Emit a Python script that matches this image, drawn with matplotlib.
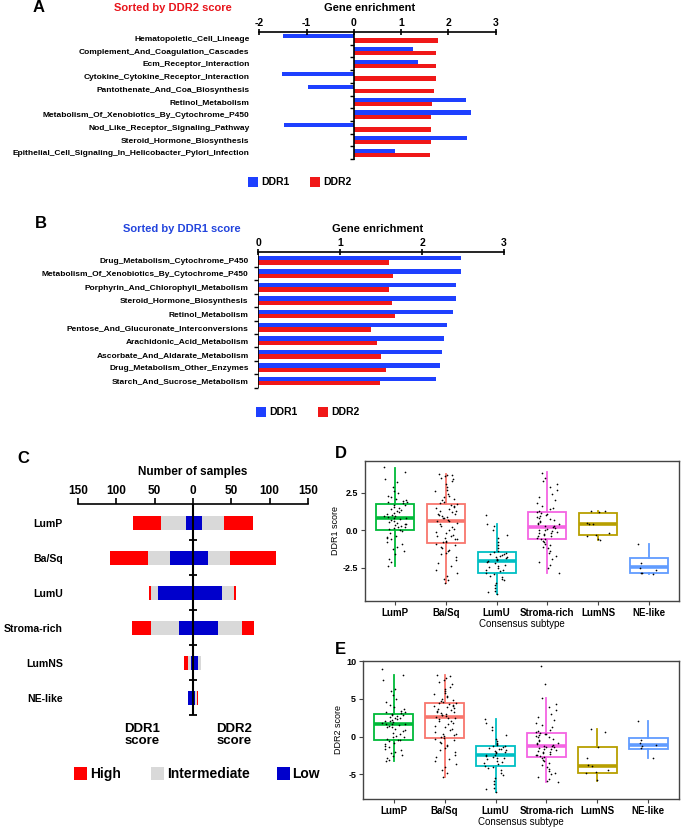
import matplotlib
matplotlib.use('Agg')
import matplotlib.pyplot as plt
from matplotlib.patches import Rectangle
import numpy as np

plt.rcParams['font.family'] = ['Liberation Sans', 'DejaVu Sans']
plt.rcParams['font.weight'] = 'bold'
plt.rcParams['axes.unicode_minus'] = False

W, H = 684, 830

# ---------------- data ----------------
# panel A: sorted by DDR2 score
a_terms = ['Hematopoietic_Cell_Lineage', 'Complement_And_Coagulation_Cascades',
           'Ecm_Receptor_Interaction', 'Cytokine_Cytokine_Receptor_Interaction',
           'Pantothenate_And_Coa_Biosynthesis', 'Retinol_Metabolism',
           'Metabolism_Of_Xenobiotics_By_Cytochrome_P450',
           'Nod_Like_Receptor_Signaling_Pathway', 'Steroid_Hormone_Biosynthesis',
           'Epithelial_Cell_Signaling_In_Helicobacter_Pylori_Infection']
a_ddr1 = [-1.50, 1.26, 1.36, -1.51, -0.98, 2.37, 2.47, -1.48, 2.40, 0.86]
a_ddr2 = [1.77, 1.74, 1.74, 1.73, 1.69, 1.66, 1.64, 1.63, 1.63, 1.62]

# panel B: sorted by DDR1 score
b_terms = ['Drug_Metabolism_Cytochrome_P450', 'Metabolism_Of_Xenobiotics_By_Cytochrome_P450',
           'Porphyrin_And_Chlorophyll_Metabolism', 'Steroid_Hormone_Biosynthesis',
           'Retinol_Metabolism', 'Pentose_And_Glucuronate_Interconversions',
           'Arachidonic_Acid_Metabolism', 'Ascorbate_And_Aldarate_Metabolism',
           'Drug_Metabolism_Other_Enzymes', 'Starch_And_Sucrose_Metabolism']
b_ddr1 = [2.48, 2.47, 2.42, 2.41, 2.38, 2.30, 2.27, 2.24, 2.22, 2.17]
b_ddr2 = [1.60, 1.64, 1.59, 1.63, 1.67, 1.38, 1.45, 1.50, 1.56, 1.49]

# panel C: number of samples per subtype
subtypes = ['LumP', 'Ba/Sq', 'LumU', 'Stroma-rich', 'LumNS', 'NE-like']
ddr1_low = [9, 30, 46, 18, 3, 7]
ddr1_int = [33, 29, 9, 37, 4, 0]
ddr1_high = [36, 49, 2, 25, 5, 0]
ddr2_low = [12, 19, 38, 32, 7, 2]
ddr2_int = [29, 29, 16, 32, 3, 3]
ddr2_high = [37, 60, 2, 16, 0, 2]

# panel D: DDR1 score box stats (whislo, q1, med, q3, whishi)
d_whislo = [-2.37, -3.52, -4.23, -2.81, -0.64, -2.90]
d_q1 = [0.04, -0.84, -2.81, -0.58, -0.33, -2.85]
d_med = [0.84, 0.64, -2.01, 0.24, 0.44, -2.46]
d_q3 = [1.73, 1.77, -1.44, 1.19, 1.13, -1.81]
d_whishi = [4.16, 3.72, 0.44, 3.85, 1.25, -0.91]
d_points = [
    [4.2, 3.9, 3.4, 3.2, 2.9, 2.6, 2.5, 2.3, 2.2, 2.1, 2.0, 1.95, 1.9, 1.85, 1.8,
     1.7, 1.65, 1.55, 1.5, 1.4, 1.35, 1.3, 1.2, 1.15, 1.1, 1.0, 0.95, 0.92, 0.88, 0.85,
     0.8, 0.75, 0.7, 0.62, 0.55, 0.5, 0.45, 0.4, 0.35, 0.3, 0.25, 0.2, 0.15, 0.1, 0.05,
     -0.05, -0.2, -0.35, -0.45, -0.5, -0.6, -0.75, -0.9, -1.1, -1.25, -1.4, -1.6, -1.9, -2.1, -2.35],
    [3.75, 3.7, 3.65, 3.6, 3.5, 3.4, 3.3, 3.1, 2.9, 2.7, 2.6, 2.4, 2.3, 2.2, 2.1, 2.0, 1.9, 1.8,
     1.75, 1.7, 1.6, 1.55, 1.5, 1.4, 1.3, 1.25, 1.2, 1.1, 1.05, 1.0, 0.95, 0.9, 0.85, 0.8, 0.7, 0.65,
     0.6, 0.5, 0.4, 0.3, 0.2, 0.1, 0.0, -0.1, -0.2, -0.3, -0.35, -0.4, -0.5, -0.55, -0.6, -0.7, -0.75, -0.8,
     -0.9, -1.0, -1.1, -1.2, -1.3, -1.4, -1.5, -1.6, -1.8, -2.0, -2.2, -2.4, -2.6, -2.8, -3.0, -3.2, -3.3, -3.5],
    [1.0, 0.45, 0.3, 0.0, -0.3, -0.5, -0.8, -1.0, -1.2, -1.35, -1.45,
     -1.5, -1.55, -1.6, -1.65, -1.7, -1.75, -1.8, -1.85, -1.9, -1.95, -2.0,
     -2.05, -2.1, -2.2, -2.3, -2.4, -2.45, -2.5, -2.6, -2.65, -2.7, -2.8,
     -2.9, -3.0, -3.1, -3.2, -3.3, -3.5, -3.6, -3.8, -4.0, -4.1, -4.25],
    [3.8, 3.5, 3.3, 3.1, 2.9, 2.7, 2.4, 2.2, 2.0, 1.8, 1.6, 1.5, 1.4, 1.3, 1.22,
     1.15, 1.1, 1.0, 0.95, 0.9, 0.8, 0.75, 0.7, 0.6, 0.55, 0.5, 0.45, 0.4, 0.3, 0.26,
     0.2, 0.15, 0.1, 0.05, 0.0, -0.05, -0.1, -0.15, -0.2, -0.25, -0.3, -0.35, -0.4, -0.5, -0.55,
     -0.6, -0.7, -0.8, -0.9, -1.0, -1.1, -1.2, -1.4, -1.5, -1.7, -1.9, -2.1, -2.3, -2.5, -2.8],
    [1.3, 1.25, 1.2, 0.5, 0.45, 0.42, -0.2, -0.3, -0.35, -0.55, -0.65],
    [-0.9, -2.2, -2.5, -2.6, -2.8, -2.85, -2.9],
]

# panel E: DDR2 score box stats
e_whislo = [-3.3, -5.4, -7.4, -6.06, -5.84, -2.87]
e_q1 = [-0.44, -0.22, -3.9, -2.65, -4.78, -1.64]
e_med = [1.64, 2.6, -2.43, -1.24, -3.85, -1.06]
e_q3 = [3.05, 4.42, -1.2, 0.53, -1.33, -0.18]
e_whishi = [8.1, 8.2, 2.3, 5.1, 1.0, 2.0]
e_points = [
    [8.9, 8.1, 7.5, 6.3, 6.0, 5.5, 5.0, 4.6, 4.2, 3.9, 3.6, 3.4, 3.3, 3.2, 3.1,
     3.0, 2.9, 2.8, 2.7, 2.6, 2.5, 2.4, 2.3, 2.2, 2.1, 2.0, 1.9, 1.8, 1.7, 1.65,
     1.6, 1.5, 1.4, 1.3, 1.2, 1.0, 0.9, 0.7, 0.5, 0.3, 0.1, 0.0, -0.1, -0.3, -0.4,
     -0.5, -0.6, -0.8, -1.0, -1.2, -1.4, -1.6, -1.8, -2.0, -2.2, -2.4, -2.6, -2.9, -3.1, -3.3],
    [8.2, 8.0, 7.8, 7.5, 7.2, 6.9, 6.6, 6.3, 6.0, 5.8, 5.6, 5.4, 5.2, 5.0, 4.9, 4.7, 4.6, 4.5,
     4.4, 4.3, 4.2, 4.1, 4.0, 3.9, 3.8, 3.6, 3.5, 3.4, 3.3, 3.2, 3.1, 3.0, 2.9, 2.8, 2.7, 2.65,
     2.5, 2.4, 2.3, 2.1, 2.0, 1.8, 1.6, 1.4, 1.2, 1.0, 0.8, 0.6, 0.4, 0.3, 0.2, 0.1, 0.0, -0.2,
     -0.3, -0.5, -0.7, -0.9, -1.1, -1.3, -1.5, -1.8, -2.1, -2.4, -2.7, -3.0, -3.3, -3.6, -4.0, -4.4, -4.9, -5.4],
    [2.3, 1.8, 1.3, 0.8, 0.2, -0.3, -0.6, -0.8, -1.0, -1.1, -1.2,
     -1.3, -1.4, -1.5, -1.6, -1.7, -1.8, -1.9, -2.0, -2.1, -2.2, -2.4,
     -2.5, -2.6, -2.7, -2.8, -2.9, -3.0, -3.2, -3.4, -3.5, -3.7, -3.9,
     -4.0, -4.2, -4.5, -4.8, -5.1, -5.5, -5.9, -6.3, -6.8, -7.0, -7.4],
    [9.4, 6.9, 5.1, 4.3, 3.9, 3.5, 3.0, 2.6, 2.2, 1.8, 1.5, 1.2, 0.9, 0.7, 0.6,
     0.5, 0.4, 0.3, 0.2, 0.1, 0.0, -0.1, -0.3, -0.5, -0.6, -0.8, -0.9, -1.0, -1.1, -1.2,
     -1.3, -1.35, -1.4, -1.5, -1.6, -1.7, -1.8, -1.9, -2.0, -2.1, -2.2, -2.3, -2.4, -2.5, -2.6,
     -2.7, -2.9, -3.1, -3.3, -3.5, -3.8, -4.0, -4.3, -4.6, -4.8, -5.0, -5.3, -5.6, -5.9, -6.0],
    [1.0, 0.6, -1.4, -2.9, -3.8, -3.9, -4.4, -4.7, -4.8, -5.8],
    [2.0, -0.5, -0.9, -1.1, -1.2, -1.5, -2.8],
]

box_colors = ['#00BA38', '#F8766D', '#00BFC4', '#F564E3', '#B79F00', '#619CFF']
BLUE_AB = '#1E40FF'
RED_AB = '#F01818'

fig = plt.figure(figsize=(W / 100, H / 100), dpi=100)


def px_axes(l, t, r, b):
    return fig.add_axes([l / W, 1 - b / H, (r - l) / W, (b - t) / H])


def ftext(x, y, s, **kw):
    return fig.text(x / W, 1 - y / H, s, **kw)


def fsquare(x0, y0, w, h, color):
    fig.add_artist(Rectangle((x0 / W, 1 - (y0 + h) / H), w / W, h / H,
                             transform=fig.transFigure, color=color, lw=0))


def enrichment_panel(ax, terms, v1, v2, xticks, ylim):
    y = np.arange(len(terms))
    ax.barh(y - 0.165, v1, height=0.33, color=BLUE_AB)
    ax.barh(y + 0.165, v2, height=0.33, color=RED_AB)
    ax.set_ylim(*ylim)
    ax.set_xlim(xticks[0], xticks[-1])
    ax.set_xticks(xticks)
    ax.xaxis.tick_top()
    ax.tick_params(axis='x', direction='inout', length=4, width=1.2, labelsize=7.5, pad=1)
    for s in ['left', 'right', 'bottom']:
        ax.spines[s].set_visible(False)
    ax.spines['top'].set_linewidth(1.2)
    ax.set_yticks(y)
    ax.set_yticklabels(terms, fontsize=6.0)
    ax.tick_params(axis='y', length=0, pad=7)
    ax.axvline(0, color='k', lw=1.2)
    ax.plot(np.zeros(len(terms)), y + 0.5, ls='none', marker=0, ms=3, mew=1, color='k', clip_on=False)
    ax.set_facecolor('none')


# ---------------- A ----------------
axA = px_axes(259.3, 31.7, 495.7, 160)
enrichment_panel(axA, a_terms, a_ddr1, a_ddr2, [-2, -1, 0, 1, 2, 3], (9.57, -0.52))
ftext(370, 8, 'Gene enrichment', ha='center', va='center', fontsize=8)
ftext(173, 8, 'Sorted by DDR2 score', ha='center', va='center', fontsize=8, color='#E8141B')
ftext(33, 8, 'A', ha='left', va='center', fontsize=12)
fsquare(248, 177, 10, 10, BLUE_AB)
ftext(261, 182, 'DDR1', ha='left', va='center', fontsize=7.5)
fsquare(310, 177, 10, 10, RED_AB)
ftext(323, 182, 'DDR2', ha='left', va='center', fontsize=7.5)

# ---------------- B ----------------
axB = px_axes(258.3, 251.7, 504, 388.3)
enrichment_panel(axB, b_terms, b_ddr1, b_ddr2, [0, 1, 2, 3], (9.55, -0.65))
ftext(378, 229, 'Gene enrichment', ha='center', va='center', fontsize=8)
ftext(182, 229, 'Sorted by DDR1 score', ha='center', va='center', fontsize=8, color='#2244DD')
ftext(35, 224, 'B', ha='left', va='center', fontsize=12)
fsquare(256, 407, 10, 10, BLUE_AB)
ftext(269, 412, 'DDR1', ha='left', va='center', fontsize=7.5)
fsquare(318, 407, 10, 10, RED_AB)
ftext(331, 412, 'DDR2', ha='left', va='center', fontsize=7.5)

# ---------------- C ----------------
C_RED, C_GRAY, C_BLUE = '#FF0000', '#D9D9D9', '#0000CC'
axC = px_axes(78, 504, 308, 715)
yc = np.arange(len(subtypes))
l1 = np.array(ddr1_low); i1 = np.array(ddr1_int); h1 = np.array(ddr1_high)
l2 = np.array(ddr2_low); i2 = np.array(ddr2_int); h2 = np.array(ddr2_high)
bh = 0.42
axC.barh(yc, -l1, height=bh, color=C_BLUE)
axC.barh(yc, -i1, left=-l1, height=bh, color=C_GRAY)
axC.barh(yc, -h1, left=-(l1 + i1), height=bh, color=C_RED)
axC.barh(yc, l2, height=bh, color=C_BLUE)
axC.barh(yc, i2, left=l2, height=bh, color=C_GRAY)
axC.barh(yc, h2, left=l2 + i2, height=bh, color=C_RED)
axC.set_xlim(-150, 150)
axC.set_ylim(5.49, -0.54)
cticks = [-150, -100, -50, 0, 50, 100, 150]
axC.set_xticks(cticks)
axC.set_xticklabels([str(abs(t)) for t in cticks])
axC.xaxis.tick_top()
axC.tick_params(axis='x', direction='out', length=4, width=1.2, labelsize=8.5, pad=1)
for s in ['left', 'right', 'bottom']:
    axC.spines[s].set_visible(False)
axC.spines['top'].set_linewidth(1.2)
axC.set_yticks(yc)
axC.set_yticklabels(subtypes, fontsize=7.6)
axC.tick_params(axis='y', length=0, pad=11)
axC.axvline(0, color='k', lw=1.5)
axC.plot(np.zeros(len(subtypes)), yc + 0.5, ls='none', marker='_', ms=6, mew=1.3, color='k', clip_on=False)
axC.set_facecolor('none')
ftext(193, 472, 'Number of samples', ha='center', va='center', fontsize=8.5)
ftext(17, 458, 'C', ha='left', va='center', fontsize=12)
ftext(142, 735, 'DDR1\nscore', ha='center', va='center', fontsize=9.5, linespacing=1.1)
ftext(234, 735, 'DDR2\nscore', ha='center', va='center', fontsize=9.5, linespacing=1.1)
fsquare(74, 767, 13, 13, C_RED)
ftext(90, 774, 'High', ha='left', va='center', fontsize=10)
fsquare(151, 767, 13, 13, C_GRAY)
ftext(167, 774, 'Intermediate', ha='left', va='center', fontsize=10)
fsquare(277, 767, 13, 13, C_BLUE)
ftext(292, 774, 'Low', ha='left', va='center', fontsize=10)


# ---------------- D / E ----------------
def box_panel(ax, whislo, q1, med, q3, whishi, points, ylim, yticks, yticklabels, ylabel):
    stats = [dict(whislo=a, q1=b, med=c, q3=d, whishi=e, fliers=[])
             for a, b, c, d, e in zip(whislo, q1, med, q3, whishi)]
    pos = np.arange(1, len(stats) + 1)
    bp = ax.bxp(stats, positions=pos, widths=0.75, showfliers=False, showcaps=False,
                patch_artist=True)
    for k, col in enumerate(box_colors):
        bp['boxes'][k].set(facecolor='white', edgecolor=col, lw=1.3)
        bp['medians'][k].set(color=col, lw=2.6)
        for w in bp['whiskers'][2 * k:2 * k + 2]:
            w.set(color=col, lw=1.3)
    for k, vals in enumerate(points):
        i = np.arange(len(vals))
        # deterministic horizontal spread of the dots (geom_jitter look)
        h = np.sin(i * 12.9898 + k * 78.233) * 43758.5453
        jit = (h - np.floor(h) - 0.5) * 0.45
        ax.scatter(pos[k] + jit, vals, s=1.5, color='k', zorder=4, lw=0)
    ax.set_xlim(0.4, 6.6)
    ax.set_ylim(*ylim)
    ax.set_yticks(yticks)
    ax.set_yticklabels(yticklabels)
    ax.set_xticks(pos)
    ax.set_xticklabels(subtypes, fontsize=7)
    ax.tick_params(axis='both', direction='out', length=3, width=0.8, color='#444444')
    ax.tick_params(axis='y', labelsize=6.5, pad=2)
    ax.tick_params(axis='x', pad=2)
    for s in ax.spines.values():
        s.set_color('#444444')
        s.set_linewidth(1.0)
    ax.set_xlabel('Consensus subtype', fontsize=7, labelpad=1)
    ax.set_ylabel(ylabel, fontsize=6.5, labelpad=2)


axD = px_axes(365, 461, 679, 600.7)
box_panel(axD, d_whislo, d_q1, d_med, d_q3, d_whishi, d_points, (-4.67, 4.6),
          [-2.5, 0, 2.5], ['-2.5', '0.0', '2.5'], 'DDR1 score')
ftext(335, 453, 'D', ha='left', va='center', fontsize=12)

axE = px_axes(363, 660.7, 679, 799)
box_panel(axE, e_whislo, e_q1, e_med, e_q3, e_whishi, e_points, (-8.28, 10.05),
          [-5, 0, 5, 10], ['-5', '0', '5', '10'], 'DDR2 score')
ftext(335, 649, 'E', ha='left', va='center', fontsize=12)

fig.savefig('out.png', dpi=100)
